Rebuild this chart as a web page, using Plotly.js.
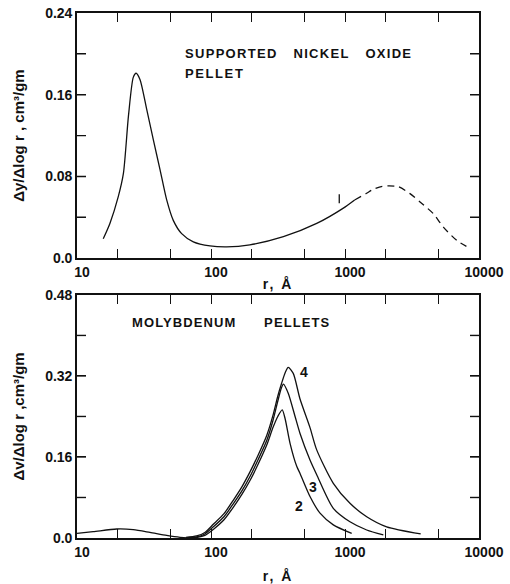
<!DOCTYPE html>
<html>
<head>
<meta charset="utf-8">
<script src="https://cdn.plot.ly/plotly-3.0.1.min.js"></script>
<style>
  html, body { margin: 0; padding: 0; background: #fff; }
  #chart { width: 510px; height: 584px; }
</style>
</head>
<body>
<div id="chart"></div>
<script>
// ---------- Top panel: supported nickel oxide pellet ----------
const nickelR = [15.7, 17.6, 20.3, 22.2, 24.2, 26.3, 27.6, 29.5, 33.1, 37.1, 41.6, 46.7, 52.3, 60.4, 73.8, 98.3, 131, 195, 347, 615, 972, 1180];
const nickelV = [0.019, 0.034, 0.060, 0.083, 0.139, 0.177, 0.181, 0.175, 0.146, 0.116, 0.087, 0.057, 0.037, 0.024, 0.016, 0.012, 0.011, 0.013, 0.021, 0.034, 0.049, 0.057];
const nickelDashR = [1180, 1450, 1625, 1900, 2140, 2500, 3055, 3631, 4560, 5420, 6820, 8570];
const nickelDashV = [0.057, 0.0635, 0.0675, 0.0703, 0.0708, 0.0700, 0.0632, 0.055, 0.0436, 0.0304, 0.0174, 0.0095];
const markR = [906, 906];
const markV = [0.0538, 0.0626];

// ---------- Bottom panel: molybdenum pellets ----------
const humpR = [10, 13.2, 19.8, 26.3, 35, 46.7, 58.7, 70];
const humpV = [0.0093, 0.0125, 0.0178, 0.0165, 0.0110, 0.0050, 0.0014, 0.0003];

const moly2R = [65, 78, 90, 104, 125, 147, 170, 195, 225, 261, 290, 315, 340, 357, 389, 437, 461, 548, 651, 818, 1122];
const moly2V = [0, 0.001, 0.005, 0.017, 0.036, 0.061, 0.086, 0.113, 0.146, 0.184, 0.218, 0.240, 0.253, 0.236, 0.187, 0.141, 0.128, 0.082, 0.049, 0.026, 0.009];

const moly3R = [65, 78, 90, 104, 125, 147, 170, 195, 225, 261, 290, 315, 335, 347, 377, 424, 461, 548, 615, 818, 1089, 1452, 1932];
const moly3V = [0.0005, 0.002, 0.008, 0.022, 0.042, 0.068, 0.093, 0.121, 0.155, 0.193, 0.232, 0.270, 0.296, 0.304, 0.286, 0.240, 0.207, 0.154, 0.125, 0.0586, 0.032, 0.0158, 0.006];

const moly4R = [65, 78, 90, 104, 125, 147, 170, 195, 225, 261, 290, 315, 336, 357, 377, 411, 461, 548, 615, 818, 1089, 1452, 2046, 3673];
const moly4V = [0.001, 0.004, 0.011, 0.027, 0.048, 0.075, 0.101, 0.130, 0.164, 0.203, 0.242, 0.280, 0.305, 0.326, 0.337, 0.325, 0.275, 0.218, 0.174, 0.108, 0.0685, 0.042, 0.022, 0.008];

const curveLabels = ['4', '3', '2'];
const curveLabelR = [494, 580, 456];
const curveLabelV = [0.328, 0.101, 0.063];

// ---------- Tick labels ----------
const xTickVals = [10, 20, 50, 100, 200, 500, 1000, 2000, 5000, 10000];
const xTickText = ['10', '', '', '100', '', '', '1000', '', '', '10000'];
const yTopTickVals = [0, 0.04, 0.08, 0.12, 0.16, 0.20, 0.24];
const yTopTickText = ['0.0', '', '0.08', '', '0.16', '', '0.24'];
const yBotTickVals = [0, 0.08, 0.16, 0.24, 0.32, 0.40, 0.48];
const yBotTickText = ['0.0', '', '0.16', '', '0.32', '', '0.48'];

const X_RANGE = [10, 10000];
const Y_TOP_RANGE = [0, 0.24];
const Y_BOT_RANGE = [0, 0.48];

const FONT = 'Liberation Sans, Arial, sans-serif';
const INK = '#111';
const lineStyle = { color: INK, width: 1.3, shape: 'spline', smoothing: 0.7 };

const W = 510, H = 584, M = { l: 77, r: 31, t: 13, b: 46 };
const TOP_DOM = [0.533, 1], BOT_DOM = [0, 0.463];
const plotW = W - M.l - M.r, plotH = H - M.t - M.b;
const TICK_PX = 9;

const traces = [
  { x: nickelR, y: nickelV, xaxis: 'x', yaxis: 'y', mode: 'lines', line: lineStyle, hoverinfo: 'skip' },
  { x: nickelDashR, y: nickelDashV, xaxis: 'x', yaxis: 'y', mode: 'lines',
    line: Object.assign({}, lineStyle, { dash: '7px,5px' }), hoverinfo: 'skip' },
  { x: markR, y: markV, xaxis: 'x', yaxis: 'y', mode: 'lines', line: { color: INK, width: 1.3 }, hoverinfo: 'skip' },
  { x: humpR, y: humpV, xaxis: 'x2', yaxis: 'y2', mode: 'lines', line: lineStyle, hoverinfo: 'skip' },
  { x: moly2R, y: moly2V, xaxis: 'x2', yaxis: 'y2', mode: 'lines', line: lineStyle, name: '2', hoverinfo: 'skip' },
  { x: moly3R, y: moly3V, xaxis: 'x2', yaxis: 'y2', mode: 'lines', line: lineStyle, name: '3', hoverinfo: 'skip' },
  { x: moly4R, y: moly4V, xaxis: 'x2', yaxis: 'y2', mode: 'lines', line: lineStyle, name: '4', hoverinfo: 'skip' }
];

// Frame tick marks as layout shapes (axis-domain units), placed from the tick arrays
const shapes = [];
function addTickShapes(xa, ya, dom, yRange, yVals) {
  const hPx = (dom[1] - dom[0]) * plotH;
  const fy = TICK_PX / hPx;
  const fx = TICK_PX / plotW;
  const st = { color: INK, width: 1.4 };
  xTickVals.forEach(function (v) {
    if (v <= X_RANGE[0] || v >= X_RANGE[1]) return;
    const lx = Math.log10(v);
    shapes.push({ type: 'line', layer: 'above', xref: xa, yref: ya + ' domain', x0: lx, x1: lx, y0: 0, y1: fy, line: st });
    shapes.push({ type: 'line', layer: 'above', xref: xa, yref: ya + ' domain', x0: lx, x1: lx, y0: 1 - fy, y1: 1, line: st });
  });
  yVals.forEach(function (v) {
    if (v <= yRange[0] || v >= yRange[1]) return;
    shapes.push({ type: 'line', layer: 'above', xref: xa + ' domain', yref: ya, x0: 0, x1: fx, y0: v, y1: v, line: st });
    shapes.push({ type: 'line', layer: 'above', xref: xa + ' domain', yref: ya, x0: 1 - fx, x1: 1, y0: v, y1: v, line: st });
  });
}
addTickShapes('x', 'y', TOP_DOM, Y_TOP_RANGE, yTopTickVals);
addTickShapes('x2', 'y2', BOT_DOM, Y_BOT_RANGE, yBotTickVals);

function xAxis(anchor, standoff) {
  return {
    type: 'log', range: [Math.log10(X_RANGE[0]), Math.log10(X_RANGE[1])], anchor: anchor, domain: [0, 1],
    tickmode: 'array', tickvals: xTickVals, ticktext: xTickText,
    ticks: 'inside', ticklen: TICK_PX, tickwidth: 1.2, tickcolor: INK,
    showline: true, linecolor: INK, linewidth: 1.6, mirror: 'ticks',
    showgrid: false, zeroline: false,
    ticklabelshift: 5,
    tickfont: { family: FONT, size: 14, color: INK, weight: 'bold' },
    title: { text: 'r, Å', font: { family: FONT, size: 14, color: INK, weight: 'bold' }, standoff: standoff }
  };
}
function yAxis(anchor, domain, range, vals, text, title) {
  return {
    anchor: anchor, domain: domain, range: range,
    tickmode: 'array', tickvals: vals, ticktext: text,
    ticks: 'inside', ticklen: TICK_PX, tickwidth: 1.2, tickcolor: INK,
    showline: true, linecolor: INK, linewidth: 1.6, mirror: 'ticks',
    showgrid: false, zeroline: false,
    tickfont: { family: FONT, size: 14, color: INK, weight: 'bold' },
    title: { text: title, font: { family: FONT, size: 15, color: INK, weight: 'bold' }, standoff: 17 }
  };
}

const annFont = { family: FONT, size: 13, color: INK, weight: 'bold' };
const annotations = [
  { text: 'SUPPORTED NICKEL OXIDE', xref: 'paper', yref: 'paper', x: 0.264, y: 0.922,
    xanchor: 'left', yanchor: 'middle', align: 'left', showarrow: false, font: annFont },
  { text: 'PELLET', xref: 'paper', yref: 'paper', x: 0.264, y: 0.884,
    xanchor: 'left', yanchor: 'middle', align: 'left', showarrow: false, font: annFont },
  { text: 'MOLYBDENUM PELLETS', xref: 'paper', yref: 'paper', x: 0.132, y: 0.410,
    xanchor: 'left', yanchor: 'middle', align: 'left', showarrow: false, font: annFont }
];
for (let i = 0; i < curveLabels.length; i++) {
  annotations.push({ text: curveLabels[i], xref: 'x2', yref: 'y2',
    x: Math.log10(curveLabelR[i]), y: curveLabelV[i],
    showarrow: false, font: { family: FONT, size: 14, color: INK, weight: 'bold' } });
}

const layout = {
  width: W, height: H,
  margin: M,
  paper_bgcolor: '#fff', plot_bgcolor: '#fff',
  showlegend: false,
  xaxis: xAxis('y', 0),
  yaxis: yAxis('x', TOP_DOM, Y_TOP_RANGE, yTopTickVals, yTopTickText, 'Δy/Δlog r , cm³/gm'),
  xaxis2: xAxis('y2', 14),
  yaxis2: yAxis('x2', BOT_DOM, Y_BOT_RANGE, yBotTickVals, yBotTickText, 'Δv/Δlog r ,cm³/gm'),
  annotations: annotations,
  shapes: shapes
};

Plotly.newPlot('chart', traces, layout, { displayModeBar: false }).then(function () {
  document.querySelectorAll('.annotation-text').forEach(function (el) {
    const t = el.textContent;
    if (t.indexOf('SUPPORTED') === 0) { el.style.letterSpacing = '1.3px'; el.style.wordSpacing = '11px'; }
    else if (t === 'PELLET') { el.style.letterSpacing = '1.6px'; }
    else if (t.indexOf('MOLYBDENUM') === 0) { el.style.letterSpacing = '1.1px'; el.style.wordSpacing = '23px'; }
  });
  document.querySelectorAll('.g-xtitle text, .g-x2title text').forEach(function (el) { el.style.letterSpacing = '2px'; });
});
</script>
</body>
</html>
